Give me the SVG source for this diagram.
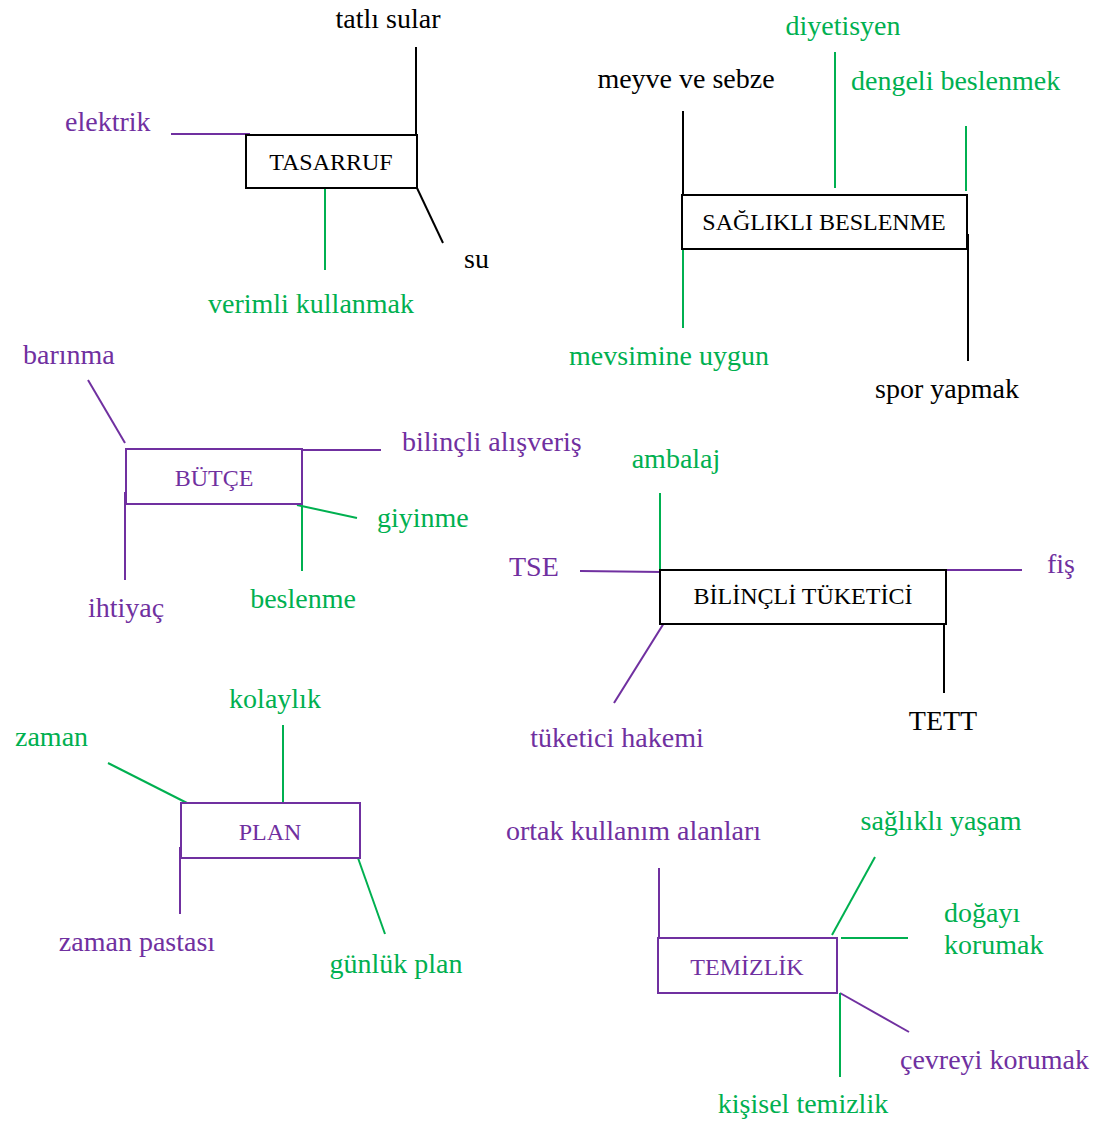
<svg xmlns="http://www.w3.org/2000/svg" width="1098" height="1122" viewBox="0 0 1098 1122">
  <style>
    text { font-family: "Liberation Serif", "Times New Roman", serif; }
    .lbl { font-size: 28px; }
    .box-t { font-size: 24px; text-anchor: middle; }
    .k { fill: #000000; }
    .p { fill: #7030A0; }
    .g { fill: #00B050; }
    .box { fill: #ffffff; stroke-width: 2; }
    .bk { stroke: #000000; }
    .bp { stroke: #7030A0; }
    line { stroke-width: 2; }
    .lk { stroke: #000000; }
    .lp { stroke: #7030A0; }
    .lg { stroke: #00B050; }
  </style>
  <rect width="1098" height="1122" fill="#ffffff"/>

  <!-- connectors -->
  <g id="connectors">
    <!-- TASARRUF -->
    <line class="lk" x1="416" y1="47" x2="416" y2="135"/>
    <line class="lp" x1="171" y1="134" x2="250" y2="134"/>
    <line class="lk" x1="417" y1="188" x2="443" y2="243"/>
    <line class="lg" x1="325" y1="188" x2="325" y2="270"/>
    <!-- SAĞLIKLI BESLENME -->
    <line class="lk" x1="683" y1="111" x2="683" y2="195"/>
    <line class="lg" x1="835" y1="52" x2="835" y2="188"/>
    <line class="lg" x1="966" y1="126" x2="966" y2="191"/>
    <line class="lg" x1="683" y1="247" x2="683" y2="328"/>
    <line class="lk" x1="968" y1="234" x2="968" y2="361"/>
    <!-- BÜTÇE -->
    <line class="lp" x1="88" y1="380" x2="125" y2="443"/>
    <line class="lp" x1="302" y1="450" x2="381" y2="450"/>
    <line class="lg" x1="297" y1="505" x2="357" y2="518"/>
    <line class="lp" x1="125" y1="492" x2="125" y2="580"/>
    <line class="lg" x1="302" y1="505" x2="302" y2="571"/>
    <!-- BİLİNÇLİ TÜKETİCİ -->
    <line class="lg" x1="660" y1="493" x2="660" y2="570"/>
    <line class="lp" x1="580" y1="571" x2="662" y2="572"/>
    <line class="lp" x1="927" y1="570" x2="1022" y2="570"/>
    <line class="lp" x1="664" y1="623" x2="614" y2="703"/>
    <line class="lk" x1="944" y1="624" x2="944" y2="693"/>
    <!-- PLAN -->
    <line class="lg" x1="283" y1="725" x2="283" y2="802"/>
    <line class="lg" x1="108" y1="763" x2="187" y2="803"/>
    <line class="lp" x1="180" y1="847" x2="180" y2="914"/>
    <line class="lg" x1="358" y1="858" x2="385" y2="934"/>
    <!-- TEMİZLİK -->
    <line class="lp" x1="659" y1="868" x2="659" y2="938"/>
    <line class="lg" x1="875" y1="857" x2="832" y2="935"/>
    <line class="lg" x1="841" y1="938" x2="908" y2="938"/>
    <line class="lp" x1="840" y1="993" x2="909" y2="1032"/>
    <line class="lg" x1="840" y1="993" x2="840" y2="1077"/>
  </g>

  <!-- TASARRUF -->
  <g id="node-tasarruf">
    <rect class="box bk" x="246" y="135" width="171" height="53"/>
    <text class="box-t k" x="331" y="170">TASARRUF</text>
    <text class="lbl k" x="388" y="28" text-anchor="middle">tatlı sular</text>
    <text class="lbl p" x="65" y="131">elektrik</text>
    <text class="lbl k" x="464" y="268">su</text>
    <text class="lbl g" x="311" y="313" text-anchor="middle">verimli kullanmak</text>
  </g>

  <!-- SAĞLIKLI BESLENME -->
  <g id="node-saglikli-beslenme">
    <rect class="box bk" x="682" y="195" width="285" height="54"/>
    <text class="box-t k" x="824" y="230">SAĞLIKLI BESLENME</text>
    <text class="lbl k" x="686" y="88" text-anchor="middle">meyve ve sebze</text>
    <text class="lbl g" x="843" y="35" text-anchor="middle">diyetisyen</text>
    <text class="lbl g" x="851" y="90">dengeli beslenmek</text>
    <text class="lbl g" x="669" y="365" text-anchor="middle">mevsimine uygun</text>
    <text class="lbl k" x="947" y="398" text-anchor="middle">spor yapmak</text>
  </g>

  <!-- BÜTÇE -->
  <g id="node-butce">
    <rect class="box bp" x="126" y="449" width="176" height="55"/>
    <text class="box-t p" x="214" y="486">BÜTÇE</text>
    <text class="lbl p" x="23" y="364">barınma</text>
    <text class="lbl p" x="402" y="451">bilinçli alışveriş</text>
    <text class="lbl g" x="377" y="527">giyinme</text>
    <text class="lbl p" x="126" y="617" text-anchor="middle">ihtiyaç</text>
    <text class="lbl g" x="303" y="608" text-anchor="middle">beslenme</text>
  </g>

  <!-- BİLİNÇLİ TÜKETİCİ -->
  <g id="node-bilincli-tuketici">
    <rect class="box bk" x="660" y="570" width="286" height="54"/>
    <text class="box-t k" x="803" y="604">BİLİNÇLİ TÜKETİCİ</text>
    <text class="lbl g" x="676" y="468" text-anchor="middle">ambalaj</text>
    <text class="lbl p" x="509" y="576">TSE</text>
    <text class="lbl p" x="1047" y="573">fiş</text>
    <text class="lbl p" x="617" y="747" text-anchor="middle">tüketici hakemi</text>
    <text class="lbl k" x="943" y="730" text-anchor="middle">TETT</text>
  </g>

  <!-- PLAN -->
  <g id="node-plan">
    <rect class="box bp" x="181" y="803" width="179" height="55"/>
    <text class="box-t p" x="270" y="840">PLAN</text>
    <text class="lbl g" x="275" y="708" text-anchor="middle">kolaylık</text>
    <text class="lbl g" x="15" y="746">zaman</text>
    <text class="lbl p" x="137" y="951" text-anchor="middle">zaman pastası</text>
    <text class="lbl g" x="396" y="973" text-anchor="middle">günlük plan</text>
  </g>

  <!-- TEMİZLİK -->
  <g id="node-temizlik">
    <rect class="box bp" x="658" y="938" width="179" height="55"/>
    <text class="box-t p" x="747" y="975">TEMİZLİK</text>
    <text class="lbl p" x="506" y="840">ortak kullanım alanları</text>
    <text class="lbl g" x="941" y="830" text-anchor="middle">sağlıklı yaşam</text>
    <text class="lbl g" x="944" y="922">doğayı</text>
    <text class="lbl g" x="944" y="954">korumak</text>
    <text class="lbl p" x="900" y="1069">çevreyi korumak</text>
    <text class="lbl g" x="803" y="1113" text-anchor="middle">kişisel temizlik</text>
  </g>
</svg>
